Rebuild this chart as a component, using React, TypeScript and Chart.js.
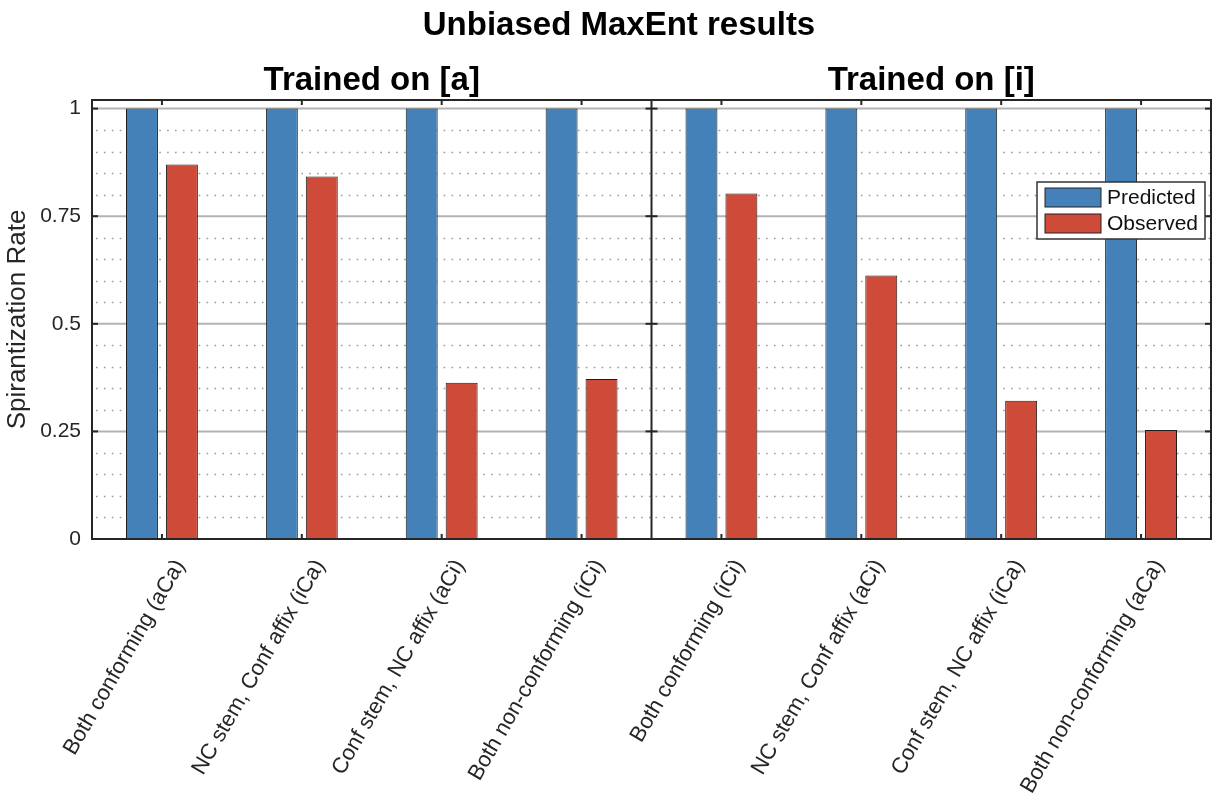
import React, { useEffect, useRef } from "react";
import { Chart, registerables } from "chart.js";

Chart.register(...registerables);

const mainTitle = "Unbiased MaxEnt results";
const panelTitles = ["Trained on [a]", "Trained on [i]"];
const categoriesA = [
  "Both conforming (aCa)",
  "NC stem, Conf affix (iCa)",
  "Conf stem, NC affix (aCi)",
  "Both non-conforming (iCi)",
];
const categoriesI = [
  "Both conforming (iCi)",
  "NC stem, Conf affix (aCi)",
  "Conf stem, NC affix (iCa)",
  "Both non-conforming (aCa)",
];
const predictedA = [1, 1, 1, 1];
const observedA = [0.87, 0.842, 0.363, 0.372];
const predictedI = [1, 1, 1, 1];
const observedI = [0.803, 0.612, 0.321, 0.253];
const seriesNames = ["Predicted", "Observed"];
const yTicks = [0, 0.25, 0.5, 0.75, 1];
const yMinorStep = 0.05;
const yMax = 1.02;
const yLabel = "Spirantization Rate";

const FONT = '"Liberation Sans", Arial, Helvetica, sans-serif';
const AX = "#262626";
const BLUE = "#4481b8";
const RED = "#cd4b38";

function seg(ctx: CanvasRenderingContext2D, x1: number, y1: number, x2: number, y2: number) {
  ctx.beginPath();
  ctx.moveTo(x1, y1);
  ctx.lineTo(x2, y2);
  ctx.stroke();
}

const figurePlugin = {
  id: "figurePlugin",
  beforeDatasetsDraw(chart: any) {
    const { ctx, chartArea: ca, scales } = chart;
    const y = scales.y;
    const x = scales.x;
    const div = (x.getPixelForValue(3) + x.getPixelForValue(4)) / 2;
    const panels = [
      [ca.left, div],
      [div, ca.right],
    ];
    ctx.save();
    ctx.strokeStyle = "#9a9a9a";
    ctx.lineWidth = 1.6;
    ctx.setLineDash([1.6, 6.3]);
    const nMinor = Math.round(yMax / yMinorStep);
    for (let i = 1; i <= nMinor; i++) {
      const v = i * yMinorStep;
      if (yTicks.some((t) => Math.abs(t - v) < 1e-9)) continue;
      const py = Math.round(y.getPixelForValue(v)) + 0.5;
      for (const [l, r] of panels) seg(ctx, l + 4, py, r, py);
    }
    ctx.setLineDash([]);
    ctx.strokeStyle = "#b3b3b3";
    ctx.lineWidth = 2;
    for (const t of yTicks) {
      if (t === 0) continue;
      const py = y.getPixelForValue(t);
      seg(ctx, ca.left, py, ca.right, py);
    }
    ctx.restore();
  },
  afterDatasetsDraw(chart: any) {
    const { ctx, chartArea: ca, scales } = chart;
    const y = scales.y;
    const x = scales.x;
    const div = (x.getPixelForValue(3) + x.getPixelForValue(4)) / 2;
    ctx.save();
    // axes box
    ctx.strokeStyle = AX;
    ctx.lineWidth = 2;
    ctx.strokeRect(ca.left, ca.top, ca.right - ca.left, ca.bottom - ca.top);
    seg(ctx, div, ca.top, div, ca.bottom);
    // y ticks
    const tl = 6;
    for (const t of yTicks) {
      const py = y.getPixelForValue(t);
      seg(ctx, ca.left, py, ca.left + tl, py);
      seg(ctx, div - tl, py, div + tl, py);
      seg(ctx, ca.right - tl, py, ca.right, py);
    }
    // x ticks
    const n = chart.data.labels.length;
    for (let i = 0; i < n; i++) {
      const px = x.getPixelForValue(i);
      seg(ctx, px, ca.bottom, px, ca.bottom - 5);
      seg(ctx, px, ca.top, px, ca.top + 5);
    }
    // titles
    ctx.fillStyle = "#000";
    ctx.textAlign = "center";
    ctx.textBaseline = "alphabetic";
    ctx.font = `bold 33px ${FONT}`;
    ctx.fillText(mainTitle, 619, 35);
    ctx.fillText(panelTitles[0], (ca.left + div) / 2, ca.top - 10);
    ctx.fillText(panelTitles[1], (div + ca.right) / 2, ca.top - 10);
    // legend
    const bx = ca.right - 174;
    const by = ca.top + 82;
    const bw = 168;
    const bh = 57;
    ctx.fillStyle = "#fff";
    ctx.fillRect(bx, by, bw, bh);
    ctx.strokeStyle = "#333";
    ctx.lineWidth = 1.5;
    ctx.strokeRect(bx, by, bw, bh);
    ctx.font = `21px ${FONT}`;
    ctx.textAlign = "left";
    ctx.textBaseline = "middle";
    chart.data.datasets.forEach((ds: any, i: number) => {
      const sy = by + 6 + i * 26;
      ctx.fillStyle = ds.backgroundColor;
      ctx.fillRect(bx + 8, sy, 56, 19);
      ctx.strokeStyle = "#222";
      ctx.lineWidth = 1;
      ctx.strokeRect(bx + 8, sy, 56, 19);
      ctx.fillStyle = "#111";
      ctx.fillText(ds.label, bx + 70, sy + 10);
    });
    ctx.restore();
  },
};

export default function App() {
  const ref = useRef<HTMLCanvasElement | null>(null);
  useEffect(() => {
    if (!ref.current) return;
    const chart = new Chart(ref.current, {
      type: "bar",
      data: {
        labels: [...categoriesA, ...categoriesI],
        datasets: [
          {
            label: seriesNames[0],
            data: [...predictedA, ...predictedI],
            backgroundColor: BLUE,
            borderColor: "#1c1c1c",
            borderWidth: 1,
            categoryPercentage: 0.571,
            barPercentage: 0.8,
          },
          {
            label: seriesNames[1],
            data: [...observedA, ...observedI],
            backgroundColor: RED,
            borderColor: "#1c1c1c",
            borderWidth: 1,
            categoryPercentage: 0.571,
            barPercentage: 0.8,
          },
        ],
      },
      options: {
        responsive: false,
        devicePixelRatio: 1,
        animation: false,
        layout: { padding: { top: 100, right: 1, left: 0, bottom: 0 } },
        plugins: {
          legend: { display: false },
          tooltip: { enabled: false },
          title: { display: false },
        },
        scales: {
          x: {
            grid: { display: false, drawTicks: false },
            border: { display: false },
            ticks: {
              autoSkip: false,
              minRotation: 60,
              maxRotation: 60,
              labelOffset: 18,
              padding: 16,
              color: AX,
              font: { family: FONT, size: 22 },
            },
            afterFit: (s: any) => {
              s.height = 257;
            },
          },
          y: {
            min: 0,
            max: yMax,
            grid: { display: false, drawTicks: false },
            border: { display: false },
            afterBuildTicks: (s: any) => {
              s.ticks = yTicks.map((v) => ({ value: v }));
            },
            ticks: {
              padding: 11,
              color: AX,
              font: { family: FONT, size: 21 },
              callback: (v: any) => String(+Number(v).toFixed(2)),
            },
            title: {
              display: true,
              text: yLabel,
              color: AX,
              font: { family: FONT, size: 26 },
              padding: { top: 2, bottom: 0 },
            },
            afterFit: (s: any) => {
              s.width = 92;
            },
          },
        },
      },
      plugins: [figurePlugin],
    });
    return () => chart.destroy();
  }, []);
  return (
    <div style={{ position: "absolute", left: 0, top: 0, width: 1212, height: 796, background: "#fff" }}>
      <canvas ref={ref} width={1212} height={796} />
    </div>
  );
}
